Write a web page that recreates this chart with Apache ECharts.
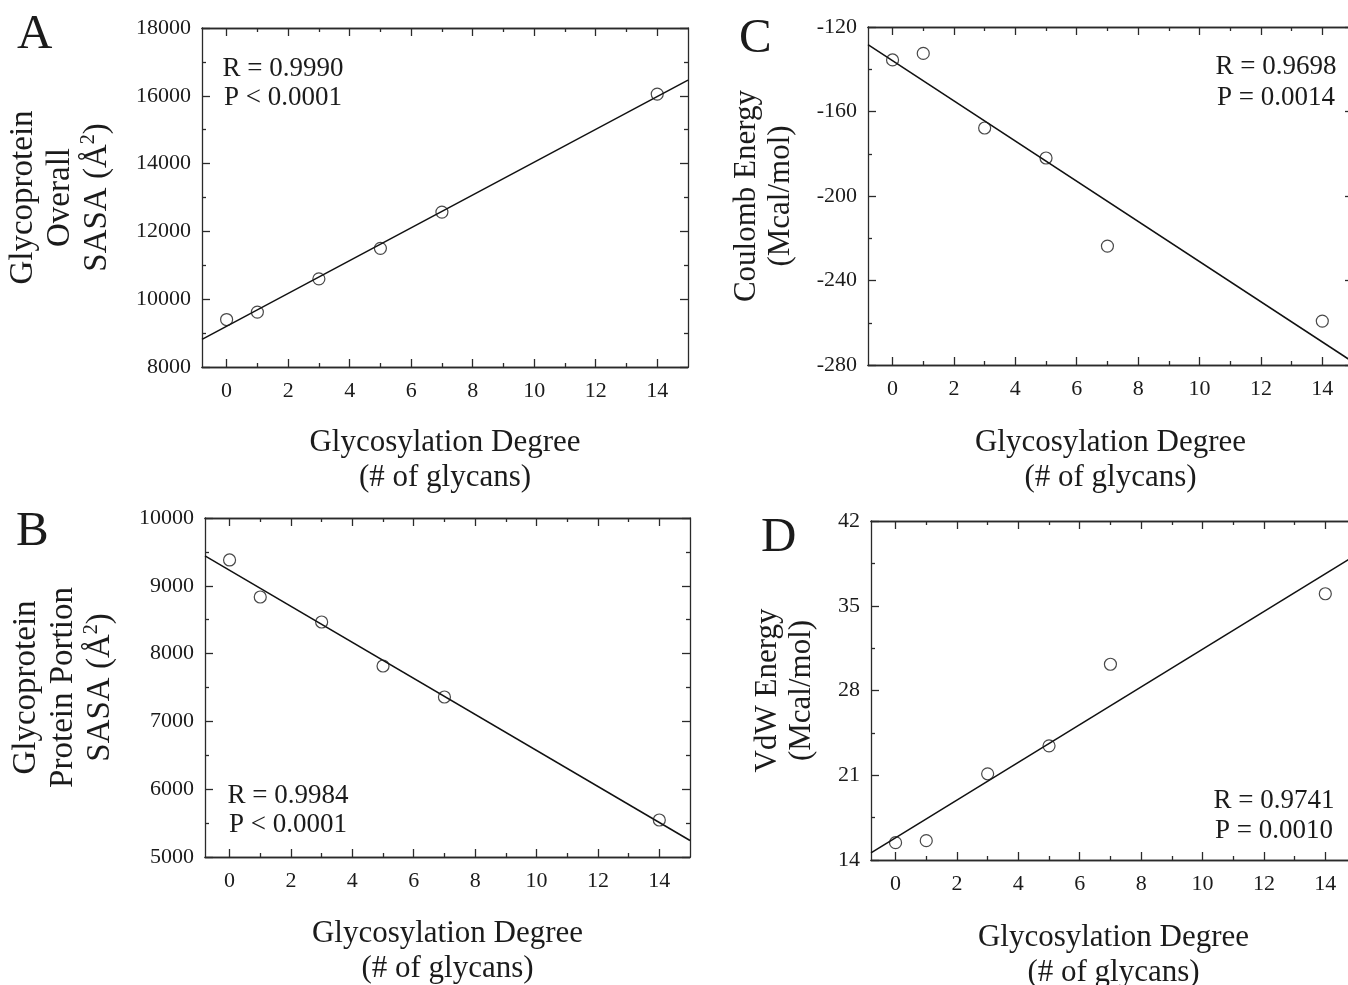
<!DOCTYPE html>
<html>
<head>
<meta charset="utf-8">
<script src="https://cdn.jsdelivr.net/npm/echarts@6/dist/echarts.min.js"></script>
<style>
html,body{margin:0;padding:0;background:#fff;}
#chart{width:1348px;height:985px;}
</style>
</head>
<body>
<div id="chart"></div>
<script>
// ---------------- data ----------------
const glycans = [0, 1, 3, 5, 7, 14];
const sasaOverall = [9400, 9620, 10600, 11500, 12570, 16050];
const sasaProtein = [9381, 8835, 8466, 7817, 7360, 5546];
const coulombEnergy = [-135.6, -132.5, -167.8, -182.0, -223.7, -259.2];
const vdwEnergy = [15.43, 15.6, 21.12, 23.43, 30.17, 35.99];
const xMajorTicks = [0, 2, 4, 6, 8, 10, 12, 14];
const xMinorTicks = [1, 3, 5, 7, 9, 11, 13];
const xRange = [-0.8, 15];
const statsA = ['R = 0.9990', 'P < 0.0001'];
const statsB = ['R = 0.9984', 'P < 0.0001'];
const statsC = ['R = 0.9698', 'P = 0.0014'];
const statsD = ['R = 0.9741', 'P = 0.0010'];
const xTitle = 'Glycosylation Degree\n(# of glycans)';

// ---------------- layout / style ----------------
const FONT = '"Liberation Serif", "Times New Roman", serif';
const INK = '#1b1b1b';
const AX = '#2a2a2a';

const panels = [
  { letter: 'A', ys: sasaOverall, yMin: 8000, yMax: 18000, yInt: 2000,
    yName: '{t|Glycoprotein}\n{t|Overall}\n{t|SASA (Å}{s|2}{t|)}', yGap: 86, yLH: 37, yFont: 33, xGap: 58,
    grid: [202, 28, 486, 339], letterPos: [17, 33],
    stats: statsA, statsPos: [283, 69, 98] },
  { letter: 'B', ys: sasaProtein, yMin: 5000, yMax: 10000, yInt: 1000,
    yName: '{t|Glycoprotein}\n{t|Protein Portion}\n{t|SASA (Å}{s|2}{t|)}', yGap: 86, yLH: 37, yFont: 33, xGap: 59,
    grid: [205, 518, 485, 339], letterPos: [16, 530],
    stats: statsB, statsPos: [288, 796, 825] },
  { letter: 'C', ys: coulombEnergy, yMin: -280, yMax: -120, yInt: 40,
    yName: '{t|Coulomb Energy}\n{t|(Mcal/mol)}', yGap: 70, yLH: 34, yFont: 31, xGap: 60,
    grid: [868, 27, 485, 338], letterPos: [739, 37],
    stats: statsC, statsPos: [1276, 67, 98] },
  { letter: 'D', ys: vdwEnergy, yMin: 14, yMax: 42, yInt: 7,
    yName: '{t|VdW Energy}\n{t|(Mcal/mol)}', yGap: 52, yLH: 34, yFont: 31, xGap: 60,
    grid: [871, 521, 485, 339], letterPos: [761, 536],
    stats: statsD, statsPos: [1274, 801, 831] }
];

function fit(xs, ys) {
  const n = xs.length;
  const mx = xs.reduce((a, b) => a + b, 0) / n;
  const my = ys.reduce((a, b) => a + b, 0) / n;
  let sxy = 0, sxx = 0;
  for (let i = 0; i < n; i++) { sxy += (xs[i] - mx) * (ys[i] - my); sxx += (xs[i] - mx) ** 2; }
  const b = sxy / sxx, a = my - b * mx;
  return [[xRange[0], a + b * xRange[0]], [xRange[1], a + b * xRange[1]]];
}

const grids = [], xAxes = [], yAxes = [], series = [], graphics = [];
const lineStyle = { color: AX, width: 1.3 };
const plain = v => String(v);

panels.forEach((p, i) => {
  grids.push({ left: p.grid[0], top: p.grid[1], width: p.grid[2], height: p.grid[3],
    containLabel: false, outerBoundsMode: 'none' });
  const baseX = {
    gridIndex: i, type: 'value', min: xRange[0], max: xRange[1],
    splitLine: { show: false }, axisLine: { show: true, onZero: false, lineStyle },
    axisLabel: { show: false }, axisTick: { show: false }
  };
  const xIndex = xAxes.length;
  xAxes.push(Object.assign({}, baseX, {
    position: 'bottom',
    axisTick: { show: true, inside: true, length: 8, customValues: xMajorTicks, lineStyle },
    axisLabel: { show: true, customValues: xMajorTicks, margin: 13, fontSize: 22, fontFamily: FONT, color: INK, formatter: plain },
    name: xTitle, nameLocation: 'middle', nameGap: p.xGap,
    nameTextStyle: { fontSize: 31, fontFamily: FONT, color: INK, lineHeight: 35 }
  }));
  xAxes.push(Object.assign({}, baseX, {
    position: 'bottom',
    axisTick: { show: true, inside: true, length: 4, customValues: xMinorTicks, lineStyle }
  }));
  xAxes.push(Object.assign({}, baseX, {
    position: 'top',
    axisTick: { show: true, inside: true, length: 8, customValues: xMajorTicks, lineStyle }
  }));
  xAxes.push(Object.assign({}, baseX, {
    position: 'top',
    axisTick: { show: true, inside: true, length: 4, customValues: xMinorTicks, lineStyle }
  }));

  const baseY = {
    gridIndex: i, type: 'value', min: p.yMin, max: p.yMax, interval: p.yInt,
    splitLine: { show: false }, minorSplitLine: { show: false },
    axisLine: { show: true, onZero: false, lineStyle },
    axisTick: { show: true, inside: true, length: 8, lineStyle },
    minorTick: { show: true, splitNumber: 2, length: 4, lineStyle }
  };
  const yIndex = yAxes.length;
  yAxes.push(Object.assign({}, baseY, {
    position: 'left',
    axisLabel: { show: true, margin: 11, fontSize: 22, fontFamily: FONT, color: INK, formatter: plain },
    name: p.yName, nameLocation: 'middle', nameRotate: 90, nameGap: p.yGap,
    nameTextStyle: {
      rich: {
        t: { fontSize: p.yFont, fontFamily: FONT, color: INK, lineHeight: p.yLH },
        s: { fontSize: 20, fontFamily: FONT, color: INK, lineHeight: 12, verticalAlign: 'top' }
      }
    }
  }));
  yAxes.push(Object.assign({}, baseY, { position: 'right', axisLabel: { show: false } }));

  series.push({
    type: 'line', xAxisIndex: xIndex, yAxisIndex: yIndex,
    data: fit(glycans, p.ys), showSymbol: false, symbol: 'none',
    lineStyle: { color: '#111', width: 1.5 }, silent: true, z: 2
  });
  series.push({
    type: 'scatter', xAxisIndex: xIndex, yAxisIndex: yIndex,
    data: glycans.map((x, j) => [x, p.ys[j]]),
    symbol: 'circle', symbolSize: 12,
    itemStyle: { color: 'rgba(0,0,0,0)', borderColor: '#1a1a1a', borderWidth: 1.2 }, z: 3
  });

  graphics.push({
    type: 'text', left: p.letterPos[0], top: p.letterPos[1] - 22,
    style: { text: p.letter, font: '49px ' + FONT, fill: INK }
  });
  graphics.push({
    type: 'text', x: p.statsPos[0], y: p.statsPos[1],
    style: { text: p.stats[0], font: '27px ' + FONT, fill: INK, textAlign: 'center', textVerticalAlign: 'middle' }
  });
  graphics.push({
    type: 'text', x: p.statsPos[0], y: p.statsPos[2],
    style: { text: p.stats[1], font: '27px ' + FONT, fill: INK, textAlign: 'center', textVerticalAlign: 'middle' }
  });
});

const chart = echarts.init(document.getElementById('chart'), null, { renderer: 'canvas' });
chart.setOption({
  backgroundColor: '#fff',
  animation: false,
  grid: grids,
  xAxis: xAxes,
  yAxis: yAxes,
  series: series,
  graphic: graphics
});
</script>
</body>
</html>
